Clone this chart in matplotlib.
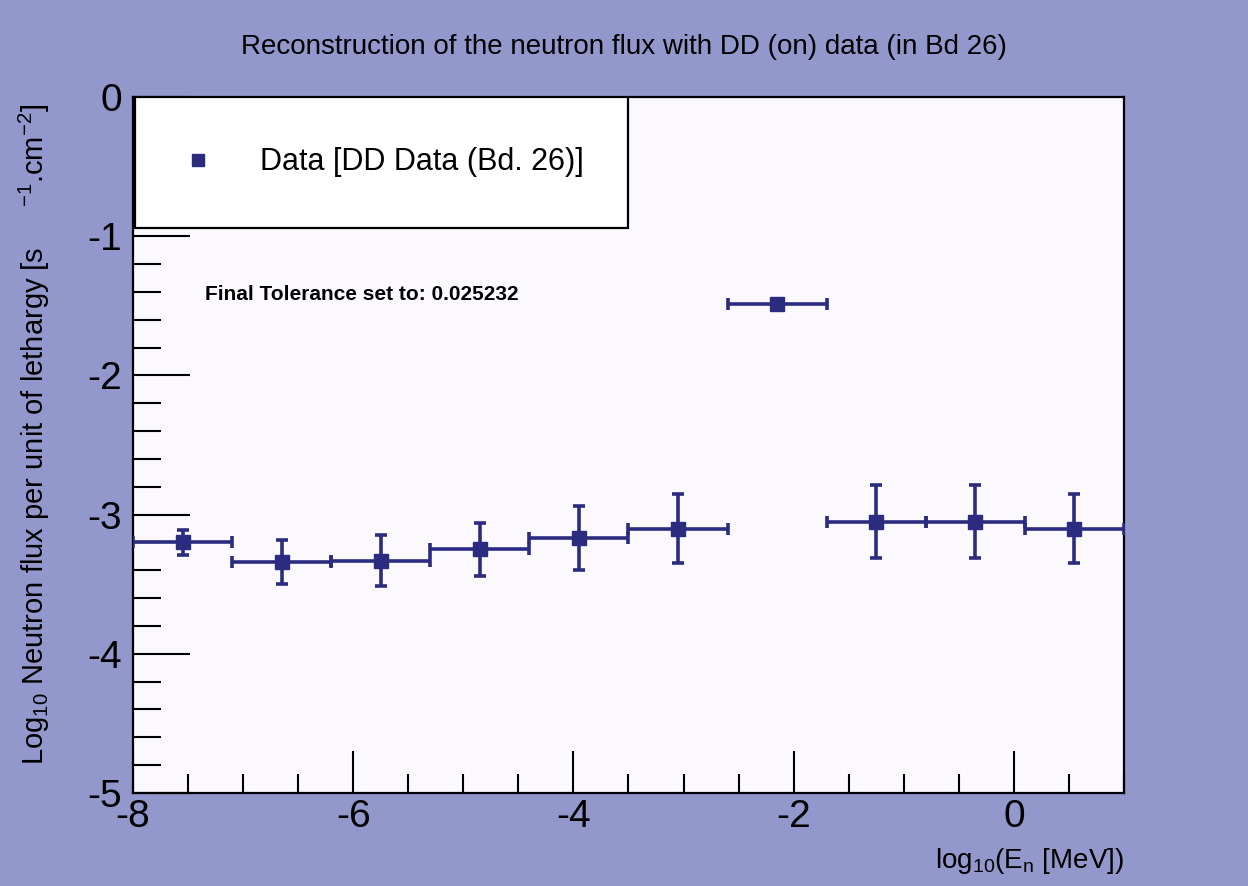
import matplotlib.pyplot as plt
from matplotlib.patches import Rectangle
from matplotlib.lines import Line2D
import numpy as np

# bin centres in log10(E/MeV), half bin width 0.45
log_e = [-7.55, -6.65, -5.75, -4.85, -3.95, -3.05, -2.15, -1.25, -0.35, 0.55]
half_width = [0.45] * 10
log_flux = [-3.20, -3.34, -3.33, -3.25, -3.17, -3.10, -1.49, -3.05, -3.05, -3.10]
flux_err = [0.09, 0.16, 0.18, 0.19, 0.23, 0.25, 0.0, 0.26, 0.265, 0.25]

plt.rcParams['font.family'] = ['Liberation Sans', 'DejaVu Sans']
plt.rcParams['mathtext.fontset'] = 'custom'
plt.rcParams['mathtext.rm'] = 'Liberation Sans'
plt.rcParams['mathtext.it'] = 'Liberation Sans'

bg = '#9297cc'
navy = '#2b2b80'

fig = plt.figure(figsize=(12.48, 8.86), dpi=100, facecolor=bg)
ax = fig.add_axes([0.1066, 0.105, 0.794, 0.7855])
ax.set_facecolor('#fbf9fe')

ax.errorbar(log_e, log_flux, xerr=half_width, yerr=flux_err, fmt='s', color=navy,
            markersize=10, elinewidth=2.6, capsize=4, capthick=2.6, zorder=3)

ax.set_xlim(-8, 1)
ax.set_ylim(-5, 0)
ax.set_xticks(np.arange(-8, 1, 2))
ax.set_xticks(np.arange(-8, 1.01, 0.5), minor=True)
ax.set_yticks(np.arange(-5, 0.01, 1))
ax.set_yticks(np.arange(-5, 0.01, 0.2), minor=True)
ax.set_xticklabels(['-8', '-6', '-4', '-2', '0'])
ax.set_yticklabels(['-5', '-4', '-3', '-2', '-1', '0'])

ax.tick_params(axis='both', which='both', direction='in', top=False, right=False,
               width=1.5, color='black', labelsize=28)
ax.tick_params(axis='y', which='major', length=41, pad=8)
ax.tick_params(axis='y', which='minor', length=20)
ax.tick_params(axis='x', which='major', length=30, pad=4)
ax.tick_params(axis='x', which='minor', length=14)
for s in ax.spines.values():
    s.set_linewidth(1.6)

ax.set_ylabel(r'Log$_{10}$ Neutron flux per unit of lethargy [s     $^{-1}$.cm$^{-2}$]',
              fontsize=21)
ax.yaxis.set_label_coords(-0.082, 0.515)
ax.set_xlabel(r'log$_{10}$(E$_{n}$ [MeV])', fontsize=20, loc='right', labelpad=8)

fig.suptitle('Reconstruction of the neutron flux with DD (on) data (in Bd 26)',
             fontsize=20, y=0.962)

ax.text(0.073, 0.716, 'Final Tolerance set to: 0.025232', transform=ax.transAxes,
        fontsize=15, fontweight='bold', va='center', ha='left', zorder=5)

# legend box
ax.add_patch(Rectangle((0.002, 0.812), 0.498, 0.188, transform=ax.transAxes,
                       facecolor='white', edgecolor='black', linewidth=1.6, zorder=6))
handle = Line2D([], [], marker='s', linestyle='none', color=navy, markersize=9)
leg = ax.legend([handle], ['Data [DD Data (Bd. 26)]'], loc='center left',
                bbox_to_anchor=(0.022, 0.906), frameon=False, fontsize=22,
                handletextpad=1.55, handlelength=1.0)
leg.set_zorder(7)

fig.savefig('out.png', dpi=100, facecolor=bg)
